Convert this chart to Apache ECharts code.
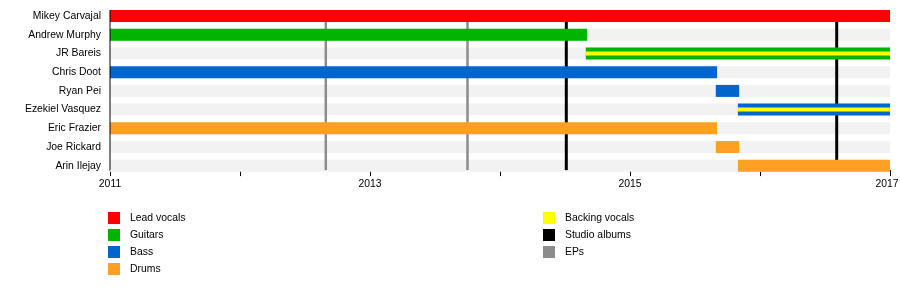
<!DOCTYPE html>
<html>
<head>
<meta charset="utf-8">
<script src="https://cdn.jsdelivr.net/npm/echarts@6/dist/echarts.min.js"></script>
<style>html,body{margin:0;padding:0;background:#fff}#c{width:900px;height:290px}</style>
</head>
<body>
<div id="c"></div>
<script>
// ---- data ----
const members = ["Mikey Carvajal","Andrew Murphy","JR Bareis","Chris Doot","Ryan Pei","Ezekiel Vasquez","Eric Frazier","Joe Rickard","Arin Ilejay"];
const leadVocals = [["Mikey Carvajal", 2011, 2017]];
const guitars = [["Andrew Murphy", 2011, 2014.67], ["JR Bareis", 2014.66, 2017]];
const bass = [["Chris Doot", 2011, 2015.67], ["Ryan Pei", 2015.66, 2015.84], ["Ezekiel Vasquez", 2015.83, 2017]];
const drums = [["Eric Frazier", 2011, 2015.67], ["Joe Rickard", 2015.66, 2015.84], ["Arin Ilejay", 2015.83, 2017]];
const backingVocals = [["JR Bareis", 2014.66, 2017], ["Ezekiel Vasquez", 2015.83, 2017]];
const studioAlbums = [2014.51, 2016.59];
const eps = [2012.66, 2013.75];
const yearStart = 2011, yearEnd = 2017;
const tickYears = [2011, 2013, 2015, 2017];

const colors = {
  "Lead vocals": "#ff0000",
  "Guitars": "#00b400",
  "Bass": "#0066cc",
  "Drums": "#ffa024",
  "Backing vocals": "#ffff00",
  "Studio albums": "#000000",
  "EPs": "#8c8c8c"
};

const AXIS_SHIFT = 5; // x axis line sits a little above grid bottom
const FONT = 10.4;

function barRender(h) {
  return function (params, api) {
    const y = api.value(0);
    const p0 = api.coord([api.value(1), y]);
    const p1 = api.coord([api.value(2), y]);
    return {
      type: 'rect',
      shape: { x: p0[0], y: p0[1] - h / 2, width: p1[0] - p0[0], height: h },
      style: { fill: api.visual('color') }
    };
  };
}
function lineRender(w) {
  return function (params, api) {
    const cs = params.coordSys;
    const top = api.coord([api.value(0), 0]);
    const band = api.size([0, 1])[1];
    const y0 = top[1] - band * 0.32;
    const y1 = cs.y + cs.height - AXIS_SHIFT;
    return {
      type: 'rect',
      shape: { x: top[0] - w / 2, y: y0, width: w, height: y1 - y0 },
      style: { fill: api.visual('color') }
    };
  };
}
function yAxisLineRender(params, api) {
  const cs = params.coordSys;
  const top = api.coord([yearStart, 0]);
  const band = api.size([0, 1])[1];
  const y0 = top[1] - band * 0.32;
  const y1 = cs.y + cs.height - AXIS_SHIFT;
  return { type: 'line', shape: { x1: top[0], y1: y0, x2: top[0], y2: y1 }, style: { stroke: '#000', lineWidth: 1 } };
}

const toData = arr => arr.map(d => [d[0], d[1], d[2]]);
const bgData = members.map(m => [m, yearStart, yearEnd]);

const series = [
  { type: 'custom', name: 'bg', z: 1, silent: true, itemStyle: { color: '#f2f2f2' }, renderItem: barRender(12), encode: { y: 0, x: [1, 2] }, data: bgData },
  { type: 'custom', name: 'EPs', z: 2, itemStyle: { color: colors['EPs'] }, renderItem: lineRender(2.5), encode: { x: 0 }, data: eps.map(v => [v]) },
  { type: 'custom', name: 'Studio albums', z: 2, itemStyle: { color: colors['Studio albums'] }, renderItem: lineRender(3), encode: { x: 0 }, data: studioAlbums.map(v => [v]) },
  { type: 'custom', name: 'Lead vocals', z: 3, itemStyle: { color: colors['Lead vocals'] }, renderItem: barRender(12), encode: { y: 0, x: [1, 2] }, data: toData(leadVocals) },
  { type: 'custom', name: 'Guitars', z: 3, itemStyle: { color: colors['Guitars'] }, renderItem: barRender(12), encode: { y: 0, x: [1, 2] }, data: toData(guitars) },
  { type: 'custom', name: 'Bass', z: 3, itemStyle: { color: colors['Bass'] }, renderItem: barRender(12), encode: { y: 0, x: [1, 2] }, data: toData(bass) },
  { type: 'custom', name: 'Drums', z: 3, itemStyle: { color: colors['Drums'] }, renderItem: barRender(12), encode: { y: 0, x: [1, 2] }, data: toData(drums) },
  { type: 'custom', name: 'Backing vocals', z: 4, itemStyle: { color: colors['Backing vocals'] }, renderItem: barRender(4), encode: { y: 0, x: [1, 2] }, data: toData(backingVocals) },
  { type: 'custom', name: 'yaxis', z: 5, silent: true, renderItem: yAxisLineRender, encode: { x: 0 }, data: [[yearStart]] }
];

const legendText = { fontFamily: 'Liberation Sans, Arial, sans-serif', fontSize: FONT, color: '#000', padding: [0, 0, 0, 5] };
const chart = echarts.init(document.getElementById('c'), null, { renderer: 'canvas' });
chart.setOption({
  animation: false,
  textStyle: { fontFamily: 'Liberation Sans, Arial, sans-serif' },
  grid: { left: 110, right: 10, top: 6.7, height: 168.4, containLabel: false, outerBoundsMode: 'none' },
  xAxis: {
    type: 'value', min: yearStart, max: yearEnd, interval: 1, offset: -AXIS_SHIFT,
    axisLine: { show: true, lineStyle: { color: '#000', width: 1 } },
    axisTick: { show: true, length: 6, lineStyle: { color: '#000' } },
    splitLine: { show: false },
    axisLabel: {
      color: '#000', fontSize: FONT, margin: 9,
      formatter: v => {
        if (tickYears.indexOf(v) < 0) return '';
        return v === yearEnd ? '{last|' + v + '}' : String(v);
      },
      rich: { last: { fontSize: FONT, color: '#000', padding: [0, 6, 0, 0] } }
    }
  },
  yAxis: {
    type: 'category', data: members, inverse: true,
    axisLine: { show: false }, axisTick: { show: false }, splitLine: { show: false },
    axisLabel: { color: '#000', fontSize: FONT, margin: 9 }
  },
  legend: [
    { orient: 'vertical', left: 108, top: 212, padding: 0, itemWidth: 12, itemHeight: 12, itemGap: 5, icon: 'rect', textStyle: legendText, selectedMode: false,
      data: ['Lead vocals', 'Guitars', 'Bass', 'Drums'] },
    { orient: 'vertical', left: 543, top: 212, padding: 0, itemWidth: 12, itemHeight: 12, itemGap: 5, icon: 'rect', textStyle: legendText, selectedMode: false,
      data: ['Backing vocals', 'Studio albums', 'EPs'] }
  ],
  series: series
});
</script>
</body>
</html>
